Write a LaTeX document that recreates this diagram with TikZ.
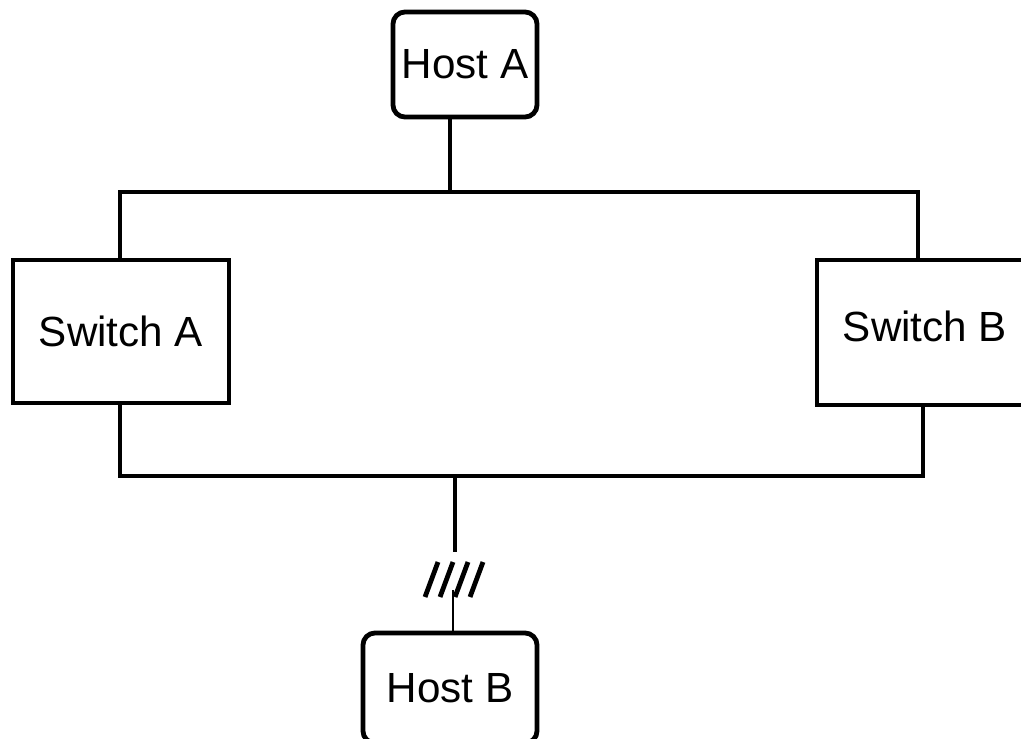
\documentclass[tikz,border=0pt]{standalone}
\usepackage{fontspec}
\setmainfont{Liberation Sans}
\usepackage{tikz}

\tikzset{
  hostbox/.style={draw, line width=0.12cm, rounded corners=0.3cm, inner sep=0pt},
  switchbox/.style={draw, line width=0.12cm, inner sep=0pt},
  bus/.style={line width=0.12cm},
  tail/.style={line width=0.035cm}
}

\begin{document}
\begin{tikzpicture}[x=0.025cm, y=-0.025cm, font=\fontsize{30}{36}\selectfont]
\useasboundingbox (0,0) rectangle (1021,738);
\clip (0,0) rectangle (1021,738);
\node [hostbox, minimum width=3.6cm, minimum height=2.625cm] (hostA) at (465,64.5) {Host A};
\node [hostbox, minimum width=4.35cm, minimum height=2.75cm] (hostB) at (450,688) {Host B};
\node [switchbox, minimum width=5.4cm, minimum height=3.575cm] (swA) at (121,331.5) {Switch A};
\node [switchbox, minimum width=5.4cm, minimum height=3.625cm, text depth=0.3cm] (swB) at (925,332.5) {Switch B};
\coordinate (tl) at (120,192);
\coordinate (tr) at (918,192);
\coordinate (bl) at (120,476);
\coordinate (br) at (923,476);
\coordinate (tap) at (450,192);
\coordinate (drop) at (455,476);
\coordinate (cut) at (455,552);
\coordinate (cutb) at (453,590);
\draw [bus] (swA.north -| tl) -- (tl) -- (tr) -- (swB.north -| tr);
\draw [bus] (hostA.south -| tap) -- (tap);
\draw [bus] (swA.south -| bl) -- (bl) -- (br) -- (swB.south -| br);
\draw [bus] (drop) -- (cut);
\draw [tail] (cutb) -- (hostB.north -| cutb);
% break marks
\foreach \i in {0,...,3}
  \draw [bus] (425+15*\i,597) -- (438+15*\i,562);
\end{tikzpicture}
\end{document}
